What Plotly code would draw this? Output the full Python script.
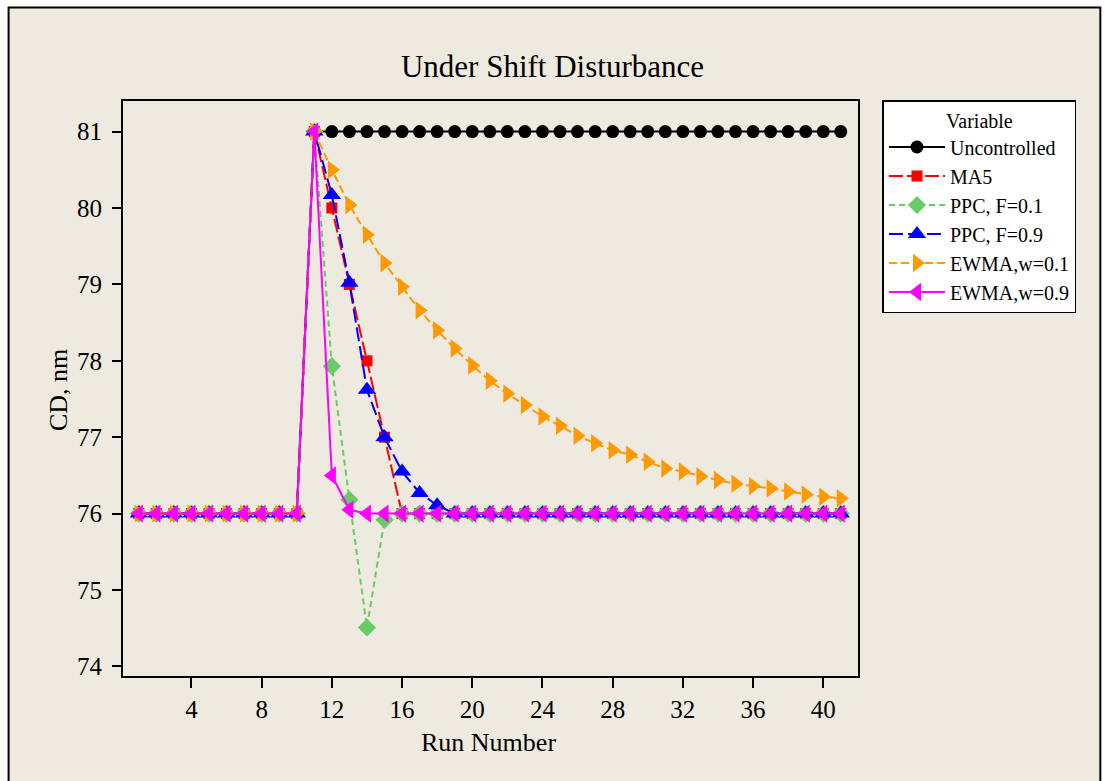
import plotly.graph_objects as go

# Run numbers and CD responses (nm) for each control scheme
runs = list(range(1, 42))

uncontrolled = [76, 76, 76, 76, 76, 76, 76, 76, 76, 76,
                81, 81, 81, 81, 81, 81, 81, 81, 81, 81,
                81, 81, 81, 81, 81, 81, 81, 81, 81, 81,
                81, 81, 81, 81, 81, 81, 81, 81, 81, 81, 81]

ma5 = [76, 76, 76, 76, 76, 76, 76, 76, 76, 76,
       81, 80, 79, 78, 77, 76, 76, 76, 76, 76,
       76, 76, 76, 76, 76, 76, 76, 76, 76, 76,
       76, 76, 76, 76, 76, 76, 76, 76, 76, 76, 76]

ppc_f01 = [76, 76, 76, 76, 76, 76, 76, 76, 76, 76,
           81, 77.93, 76.18, 74.51, 75.92, 76, 76, 76, 76, 76,
           76, 76, 76, 76, 76, 76, 76, 76, 76, 76,
           76, 76, 76, 76, 76, 76, 76, 76, 76, 76, 76]

ppc_f09 = [76, 76, 76, 76, 76, 76, 76, 76, 76, 76,
           81, 80.17, 79.02, 77.62, 77.0, 76.55, 76.27, 76.11, 76, 76,
           76, 76, 76, 76, 76, 76, 76, 76, 76, 76,
           76, 76, 76, 76, 76, 76, 76, 76, 76, 76, 76]

ewma_w01 = [76, 76, 76, 76, 76, 76, 76, 76, 76, 76,
            81, 80.5, 80.04, 79.65, 79.28, 78.97, 78.66, 78.40, 78.16, 77.94,
            77.74, 77.57, 77.42, 77.27, 77.15, 77.02, 76.92, 76.83, 76.77, 76.68,
            76.59, 76.55, 76.49, 76.44, 76.39, 76.36, 76.33, 76.29, 76.25, 76.22, 76.20]

ewma_w09 = [76, 76, 76, 76, 76, 76, 76, 76, 76, 76,
            81, 76.5, 76.05, 76, 76, 76, 76, 76, 76, 76,
            76, 76, 76, 76, 76, 76, 76, 76, 76, 76,
            76, 76, 76, 76, 76, 76, 76, 76, 76, 76, 76]

x_ticks = [4, 8, 12, 16, 20, 24, 28, 32, 36, 40]
y_ticks = [74, 75, 76, 77, 78, 79, 80, 81]

FONT = "Liberation Serif"
BEIGE = "#EEEAE0"

series = [
    ("Uncontrolled", uncontrolled, "#000000", "solid", "circle", 13),
    ("MA5", ma5, "#FF0000", "14px,4px", "square", 11),
    ("PPC, F=0.1", ppc_f01, "#66CC66", "6px,4px", "diamond", 14),
    ("PPC, F=0.9", ppc_f09, "#0000FF", "14px,5px", "triangle-up", 16),
    ("EWMA,w=0.1", ewma_w01, "#FF9900", "8px,4px", "triangle-right", 16),
    ("EWMA,w=0.9", ewma_w09, "#FF00FF", "solid", "triangle-left", 16),
]

fig = go.Figure()
for i, (name, vals, color, dash, symbol, size) in enumerate(series):
    fig.add_trace(go.Scatter(
        x=runs, y=vals, name=name, mode="lines+markers",
        legendgroup=f"g{i}",
        line=dict(color=color, width=2, dash=dash),
        marker=dict(symbol=symbol, size=size, color=color),
    ))

# plot area geometry in pixels
L, R, T, B = 123, 858.5, 101, 676
W, H = 1105, 781
pw, ph = R - L, B - T


def px(xp):
    return (xp - L) / pw


def py(yp):
    return (B - yp) / ph


fig.update_layout(
    width=W, height=H,
    margin=dict(l=L, r=W - R, t=T, b=H - B, autoexpand=False),
    paper_bgcolor="white",
    plot_bgcolor="white",
    font=dict(family=FONT, color="black", size=24),
    title=dict(text="Under Shift Disturbance", x=0.5, xref="container",
               xanchor="center", y=1 - 66 / H, yref="container",
               yanchor="middle", font=dict(family=FONT, size=31)),
    showlegend=True,
    legend=dict(
        x=px(883), y=py(100), xanchor="left", yanchor="top",
        bgcolor="white", bordercolor="black", borderwidth=1.5,
        font=dict(family=FONT, size=20),
        title=dict(text="Variable", side="top center",
                   font=dict(family=FONT, size=20)),
        tracegroupgap=0,
        itemwidth=56,
    ),
    xaxis=dict(
        range=[0.1, 41.98], tickvals=x_ticks, ticks="outside", ticklen=10,
        tickwidth=1.5, tickcolor="black", showline=True, linecolor="black",
        linewidth=2, mirror=True, showgrid=False, zeroline=False,
        tickfont=dict(family=FONT, size=25),
    ),
    yaxis=dict(
        range=[73.875, 81.40], tickvals=y_ticks, ticks="outside", ticklen=9,
        tickwidth=1.5, tickcolor="black", showline=True, linecolor="black",
        linewidth=2, mirror=True, showgrid=False, zeroline=False,
        tickfont=dict(family=FONT, size=25), ticklabelstandoff=5,
    ),
    shapes=[
        dict(type="rect", xref="paper", yref="paper", layer="below",
             x0=px(8.5), x1=px(1101), y0=py(800), y1=py(7.5),
             fillcolor=BEIGE, line=dict(color="black", width=2)),
    ],
    annotations=[
        dict(text="Run Number", xref="paper", yref="paper",
             x=px(489), y=py(742), xanchor="center", yanchor="middle",
             showarrow=False, font=dict(family=FONT, size=26)),
        dict(text="CD, nm", xref="paper", yref="paper", textangle=-90,
             x=px(58), y=py(390), xanchor="center", yanchor="middle",
             showarrow=False, font=dict(family=FONT, size=26)),
    ],
)

fig.write_html("out.html")
